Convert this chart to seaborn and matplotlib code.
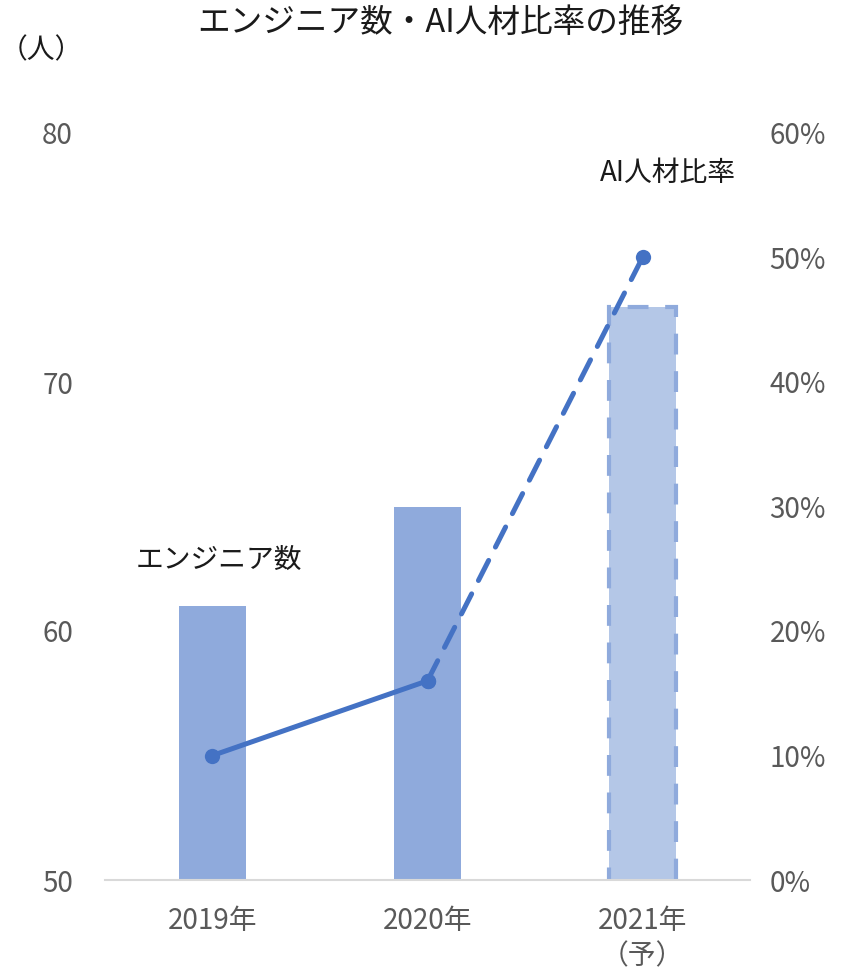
import numpy as np
import pandas as pd
import seaborn as sns
import matplotlib.pyplot as plt
from matplotlib.ticker import FuncFormatter

# data
years = ["2019年", "2020年", "2021年\n（予）"]
engineers = [61, 65, 73]
ai_ratio = [0.10, 0.16, 0.50]

sns.set_theme(style="white")
plt.rcParams['font.family'] = ['Noto Sans CJK JP', 'DejaVu Sans']

GRAY = "#595959"
BAR = "#8FAADC"
BAR_LIGHT = "#B4C7E7"
LINE = "#4472C4"
FS = 20

fig = plt.figure(figsize=(8.56, 9.74), dpi=100)
ax = fig.add_axes([105 / 856, 1 - 880 / 974, (750 - 105) / 856, (880 - 133) / 974])

df = pd.DataFrame({"year": years, "engineers": engineers})
sns.barplot(df, x="year", y="engineers", ax=ax, color=BAR, width=0.316,
            saturation=1, linewidth=0)

# forecast bar: lighter fill, dashed edge
p = ax.patches[2]
p.set_facecolor(BAR_LIGHT)
p.set_edgecolor(BAR)
p.set_linewidth(3)
p.set_linestyle((0, (5, 4)))

ax.set_ylim(50, 80)
ax.set_xlim(-0.5, 2.5)
ax.set_yticks([50, 60, 70, 80])
ax.set_xlabel("")
ax.set_ylabel("")
ax.tick_params(axis="y", length=0, labelsize=FS, labelcolor=GRAY, pad=23)
ax.tick_params(axis="x", length=0, labelsize=FS, labelcolor=GRAY, pad=19)
for t in ax.get_xticklabels():
    t.set_linespacing(1.2)
for side in ["top", "left", "right"]:
    ax.spines[side].set_visible(False)
ax.spines["bottom"].set_color("#D9D9D9")
ax.spines["bottom"].set_linewidth(1.5)

ax2 = ax.twinx()
x = np.arange(len(years))
sns.lineplot(x=x[:2], y=ai_ratio[:2], ax=ax2, color=LINE, linewidth=3.6,
             marker="o", markersize=11, markeredgewidth=0)
sns.lineplot(x=x[1:], y=ai_ratio[1:], ax=ax2, color=LINE, linewidth=3.6,
             dashes=(4.5, 3), marker="o", markersize=11, markeredgewidth=0)
for ln in ax2.lines:
    ln.set_dash_capstyle("round")
ax2.set_ylim(0, 0.6)
ax2.set_yticks([0, 0.1, 0.2, 0.3, 0.4, 0.5, 0.6])
ax2.yaxis.set_major_formatter(FuncFormatter(lambda v, _: f"{v:.0%}"))
ax2.tick_params(axis="y", length=0, labelsize=FS, labelcolor=GRAY, pad=14)
ax2.set_ylabel("")
for side in ["top", "left", "right", "bottom"]:
    ax2.spines[side].set_visible(False)
ax2.grid(False)
ax.grid(False)

# series labels
ax.text(0.03, 62.85, "エンジニア数", fontsize=FS, color="#1a1a1a", ha="center", va="center")
ax2.text(2.12, 0.568, "AI人材比率", fontsize=FS, color="#1a1a1a", ha="center", va="center")

fig.text(440 / 856, 1 - 23 / 974, "エンジニア数・AI人材比率の推移", fontsize=23.5,
         color="#1a1a1a", ha="center", va="center")
fig.text(0.0, 1 - 50 / 974, "（人）", fontsize=FS, color="#1a1a1a",
         ha="left", va="center")

fig.savefig("out.png", dpi=100)
